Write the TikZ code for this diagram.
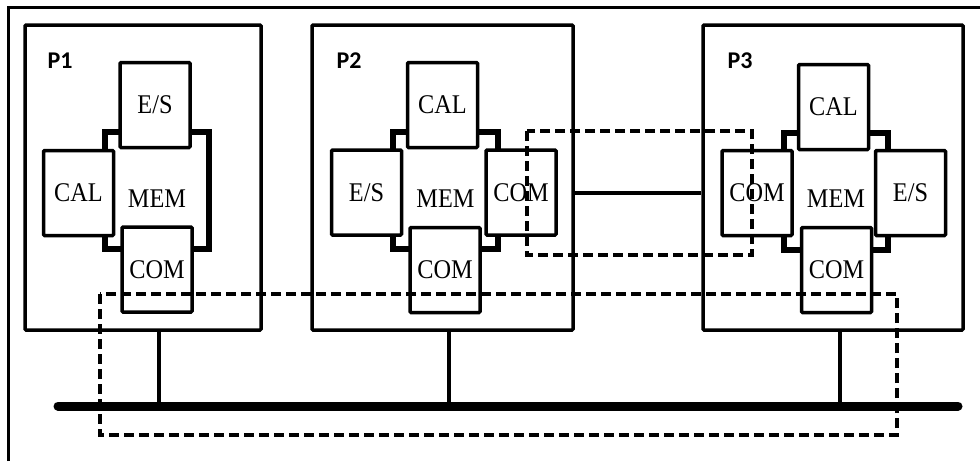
\documentclass[tikz,border=0pt]{standalone}
\usepackage{fontspec}
\setmainfont{Liberation Serif}[FakeStretch=0.9]
\newfontfamily\procfont{Carlito}
\usetikzlibrary{positioning}

\begin{document}
\begin{tikzpicture}[
    x=1pt, y=-1pt,
    base/.style={draw, line width=3.5pt, rounded corners=1pt, inner sep=0pt},
    proc/.style={base, minimum width=#1, minimum height=305pt},
    unit/.style={base, fill=white, minimum width=70pt, minimum height=85pt,
                 font=\fontsize{27}{30}\selectfont},
    memframe/.style={draw, line width=6pt, minimum width=104pt, minimum height=117pt, inner sep=0pt},
    memtext/.style={font=\fontsize{27}{30}\selectfont},
    ptitle/.style={font=\procfont\bfseries\fontsize{24}{28}\selectfont},
    stub/.style={line width=4pt},
    bus/.style={line width=9pt, line cap=round},
    link/.style={line width=4pt},
    group/.style={line width=4pt, dash pattern=on 10pt off 5pt}
]
    \useasboundingbox (0,0) rectangle (980,461);

    % Outer frame
    \draw [line width=3pt] (8,461) -- (8,7) -- (980,7);

    % Processors
    \node [proc=236pt] (p1) at (143,177.5) {};
    \node [proc=261pt] (p2) at (442.5,177.5) {};
    \node [proc=260pt] (p3) at (833,177.5) {};
    \node [ptitle] (t1) at (60,61) {P1};
    \node [ptitle] (t2) at (349,61) {P2};
    \node [ptitle] (t3) at (740,61) {P3};

    % P1
    \node [memframe] (mem1) at (157,190.5) {};
    \node [memtext] (memt1) at ([yshift=-8pt]mem1.center) {MEM};
    \node [unit] (es1) at (155,105) {E/S};
    \node [unit] (cal1) at (78.5,193) {CAL};
    \node [unit] (com1) at (157,269.5) {COM};

    % P2
    \node [memframe, minimum width=105pt] (mem2) at (445.5,190.5) {};
    \node [memtext] (memt2) at ([yshift=-8pt]mem2.center) {MEM};
    \node [unit] (cal2) at (442.5,105) {CAL};
    \node [unit] (es2) at (366.5,192.5) {E/S};
    \node [unit] (com2r) at (521,192.5) {COM};
    \node [unit] (com2) at (445,270) {COM};

    % P3
    \node [memframe] (mem3) at (836,191) {};
    \node [memtext] (memt3) at ([yshift=-8pt]mem3.center) {MEM};
    \node [unit] (cal3) at (833.5,107) {CAL};
    \node [unit] (com3l) at (757,193) {COM};
    \node [unit] (es3) at (910.5,193) {E/S};
    \node [unit] (com3) at (836.5,270) {COM};

    % Bus and links
    \coordinate (busl) at (58,406);
    \coordinate (busr) at (958,406);
    \draw [bus] (busl) -- (busr);
    \draw [stub] ([xshift=16pt]p1.south) -- ([xshift=16pt]p1.south |- busl);
    \draw [stub] ([xshift=6.5pt]p2.south) -- ([xshift=6.5pt]p2.south |- busl);
    \draw [stub] ([xshift=7pt]p3.south) -- ([xshift=7pt]p3.south |- busl);
    \draw [link] (p2.east |- com2r) -- (p3.west |- com2r);

    % Groups
    \draw [group] (100,294) rectangle (897,435);
    \draw [group] (527,131) rectangle (752,255);
\end{tikzpicture}
\end{document}
